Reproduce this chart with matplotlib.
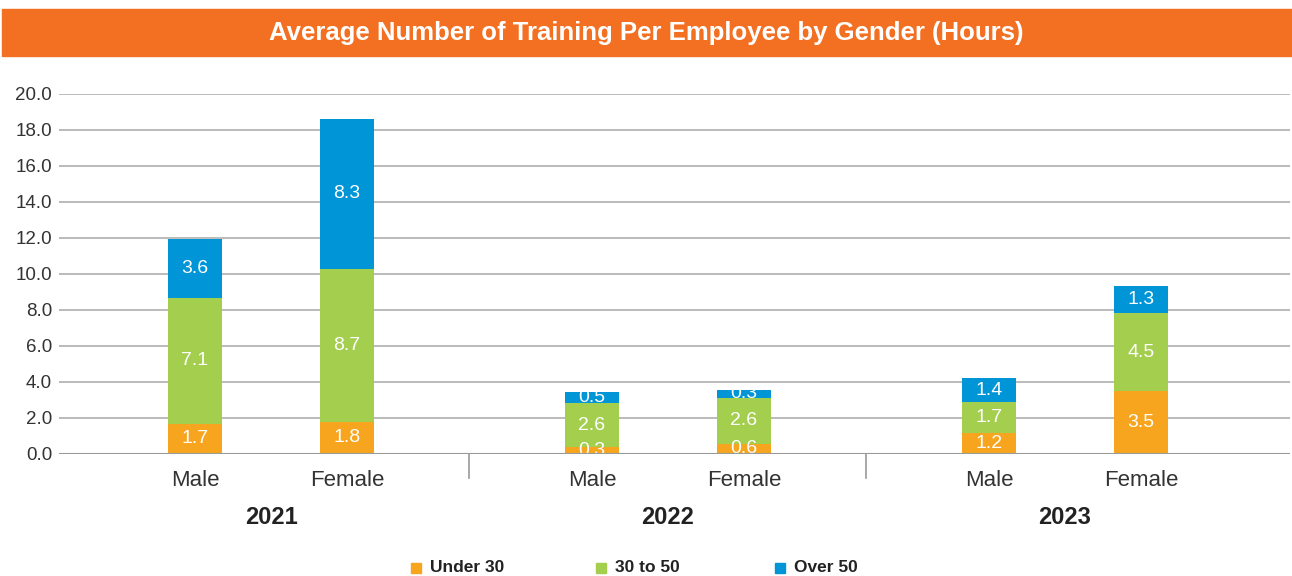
import numpy as np
import matplotlib
matplotlib.use("Agg")
import matplotlib.pyplot as plt
from matplotlib.patches import Rectangle
import matplotlib.transforms as mtransforms

# Data
years = ["2021", "2022", "2023"]
genders = ["Male", "Female"]
series = ["Under 30", "30 to 50", "Over 50"]

# segment heights (as drawn), order: 2021 M, 2021 F, 2022 M, 2022 F, 2023 M, 2023 F
under30 = [1.68, 1.78, 0.39, 0.57, 1.17, 3.50]
mid30_50 = [6.99, 8.50, 2.44, 2.56, 1.72, 4.33]
over50 = [3.27, 8.33, 0.61, 0.43, 1.33, 1.52]

# data labels printed on the segments
lab_under30 = ["1.7", "1.8", "0.3", "0.6", "1.2", "3.5"]
lab_mid30_50 = ["7.1", "8.7", "2.6", "2.6", "1.7", "4.5"]
lab_over50 = ["3.6", "8.3", "0.5", "0.3", "1.4", "1.3"]

colors = ["#F7A51F", "#A3CE4E", "#0095D7"]
orange_bar = "#F36F21"

plt.rcParams['font.family'] = ['Liberation Sans', 'DejaVu Sans']

fig = plt.figure(figsize=(12.92, 5.76), dpi=100)

# orange title band
fig.patches.append(Rectangle((2 / 1292, 1 - 55.5 / 576), 1, 46.5 / 576,
                             transform=fig.transFigure, color=orange_bar, zorder=0))
fig.text(0.5, 1 - 33 / 576, "Average Number of Training Per Employee by Gender (Hours)",
         ha="center", va="center", color="white", fontsize=18.5, fontweight="bold")

ax = fig.add_axes([59 / 1292, 1 - 454 / 576, 1231 / 1292, 360 / 576])

# x positions: two bars per year group
group_step = 397 / 152
x = np.array([g * group_step + i for g in range(len(years)) for i in range(len(genders))])
width = 54 / 152

stacks = [under30, mid30_50, over50]
labels = [lab_under30, lab_mid30_50, lab_over50]
bottom = np.zeros(len(x))
for vals, labs, col, name in zip(stacks, labels, colors, series):
    vals = np.array(vals)
    ax.bar(x, vals, width, bottom=bottom, color=col, label=name, zorder=3)
    for xi, b, v, t in zip(x, bottom, vals, labs):
        ax.text(xi, b + v / 2, t, ha="center", va="center", color="white",
                fontsize=14, zorder=4)
    bottom = bottom + vals

ax.set_xlim((59 - 195) / 152, (1290 - 195) / 152)
ax.set_ylim(0, 20)
ax.set_yticks(np.arange(0, 21, 2))
ax.set_yticklabels([f"{v:.1f}" for v in np.arange(0, 21, 2)], fontsize=13.5, color="#333333")
ax.tick_params(axis="y", length=0, pad=5)
ax.set_xticks([])
for s in ax.spines.values():
    s.set_visible(False)
ax.grid(axis="y", color="#B5B5B5", linewidth=1.3, zorder=0)
ax.axhline(0, color="#9A9A9A", linewidth=1.5, zorder=5)

# category and year labels
trans = mtransforms.blended_transform_factory(ax.transData, ax.transAxes)
for xi, gname in zip(x, genders * len(years)):
    ax.text(xi, -27 / 360, gname, transform=trans, ha="center", va="center",
            fontsize=16, color="#333333")
for g, yr in enumerate(years):
    cx = g * group_step + 0.5
    ax.text(cx, -64 / 360, yr, transform=trans, ha="center", va="center",
            fontsize=17, fontweight="bold", color="#222222")

# group separators
for g in range(1, len(years)):
    sx = (g - 1) * group_step + 1 + (469 - 347) / 152
    ax.plot([sx, sx], [0, -24 / 360], transform=trans, color="#9A9A9A",
            linewidth=1.2, clip_on=False)

# legend
leg_x = [411, 596, 775]
for hx, c, name in zip(leg_x, colors, series):
    fig.patches.append(Rectangle((hx / 1292, 1 - 573 / 576), 10 / 1292, 10 / 576,
                                 transform=fig.transFigure, color=c))
    fig.text((hx + 19) / 1292, 1 - 567.5 / 576, name, ha="left", va="center",
             fontsize=12.5, fontweight="bold", color="#222222")

plt.savefig("out.png", dpi=100)
